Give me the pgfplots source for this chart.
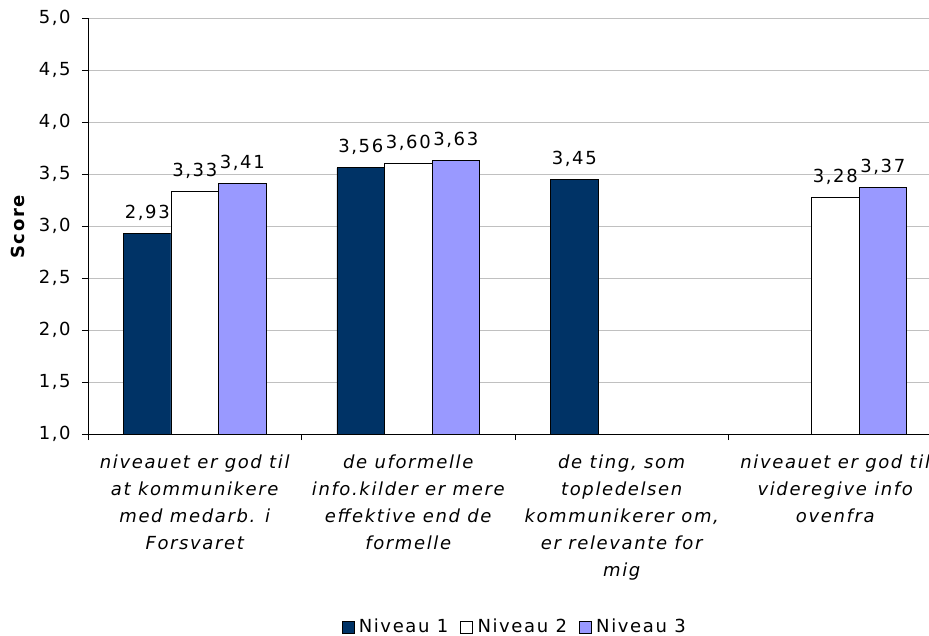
\documentclass[border=0pt]{standalone}
\usepackage{fontspec}
\setmainfont{DejaVu Sans}[LetterSpace=9]
\usepackage{pgfplots}
\pgfplotsset{compat=1.18}

\definecolor{navy}{HTML}{003366}
\definecolor{lav}{HTML}{9999FF}
\definecolor{gridgray}{HTML}{C0C0C0}

\begin{document}
\begin{tikzpicture}
\begin{axis}[
  at={(0,0)}, anchor=south west,
  scale only axis, width=640.5pt, height=312pt,
  ybar=0pt, bar width=0.2225,
  xmin=-0.5, xmax=3.5, ymin=1, ymax=5,
  ytick={1,1.5,...,5},
  xtick={-0.5,0.5,1.5,2.5,3.5}, xticklabels={},
  extra x ticks={0,1,2,3},
  extra x tick labels={
    {niveauet er god til\\at kommunikere\\med medarb. i\\Forsvaret},
    {de uformelle\\info.kilder er mere\\effektive end de\\formelle},
    {de ting, som\\topledelsen\\kommunikerer om,\\er relevante for\\mig},
    {niveauet er god til\\videregive info\\ovenfra}},
  extra x tick style={major tick length=0pt,
    tick label style={align=center, font=\fontsize{13.5}{20.25}\selectfont\itshape, yshift=-12pt}},
  major tick length=4.5pt, tick align=outside,
  axis x line*=bottom, axis y line*=left, axis line style={-, black},
  ymajorgrids, grid style={gridgray, line width=0.6pt},
  ytick style={black}, xtick style={black},
  /pgf/number format/.cd, assume math mode=true, use comma, fixed, fixed zerofill, precision=1,
  /pgfplots/.cd,
  yticklabel style={font=\fontsize{13.5}{16}\selectfont, xshift=-5pt},
  ylabel={\textbf{Score}},
  ylabel style={at={(axis description cs:-0.082,0.5)}, anchor=center, font=\fontsize{13.5}{16}\selectfont},
  nodes near coords,
  nodes near coords style={font=\fontsize{13.5}{16}\selectfont, anchor=south, yshift=6pt,
    /pgf/number format/.cd, assume math mode=true, use comma, fixed, fixed zerofill, precision=2},
  legend columns=3,
  legend style={at={(0.5,-0.464)}, anchor=center, draw=none, font=\fontsize{13.5}{16}\selectfont,
    /tikz/every odd column/.append style={column sep=1.5pt},
    /tikz/every even column/.append style={column sep=7pt}},
  legend image code/.code={\draw[#1, draw=black] (0pt,-4.5pt) rectangle (9pt,4.5pt);},
]
\addplot[draw=black, fill=navy] coordinates {(0,2.93) (1,3.56) (2,3.45)};
\addplot[draw=black, fill=white] coordinates {(0,3.33) (1,3.60) (3,3.28)};
\addplot[draw=black, fill=lav] coordinates {(0,3.41) (1,3.63) (3,3.37)};
\legend{Niveau 1, Niveau 2, Niveau 3}
\end{axis}
\pgfresetboundingbox
\useasboundingbox (-66pt,-151.5pt) rectangle (630.75pt,325.5pt);
\end{tikzpicture}
\end{document}
